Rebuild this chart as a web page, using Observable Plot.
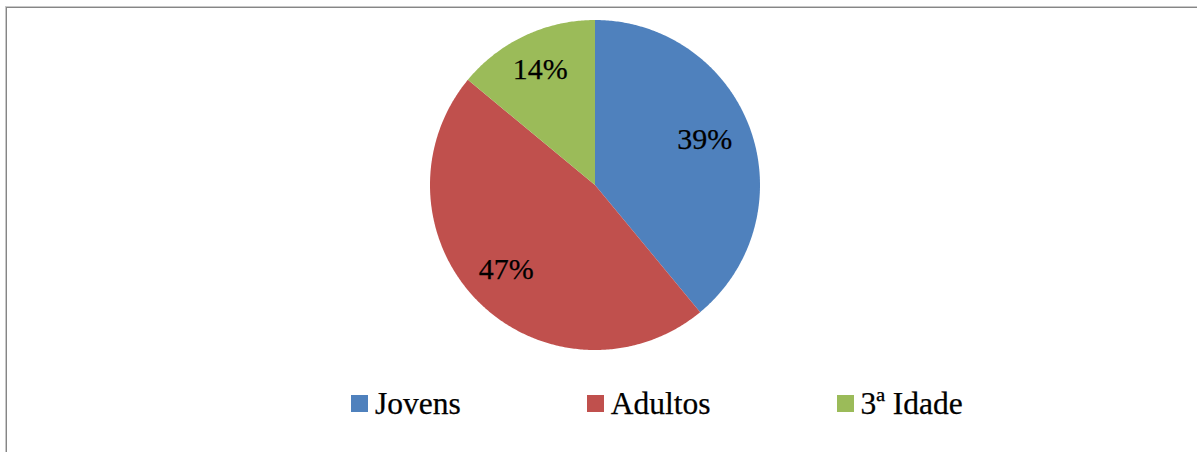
<!DOCTYPE html>
<html>
<head>
<meta charset="utf-8">
<script src="https://cdn.jsdelivr.net/npm/d3@7"></script>
<script src="https://cdn.jsdelivr.net/npm/@observablehq/plot@0.6"></script>
<style>
  html, body { margin: 0; padding: 0; background: #fff; overflow: hidden; width: 1197px; height: 452px; }
  #frame { position: absolute; left: 6px; top: 7px; width: 1300px; height: 600px; border-left: 1px solid #868686; border-top: 1px solid #868686; box-shadow: -1px -1px 0 #c8c8c8; }
  #chart { position: absolute; left: 0; top: 0; }
  #legend { position: absolute; left: 351px; top: 395px; display: flex; align-items: center; gap: 126px; font-family: "Liberation Serif"; font-size: 31.5px; line-height: 17px; color: #000; -webkit-text-stroke: 0.25px #000; }
  .item { display: flex; align-items: center; white-space: nowrap; }
  .sw { width: 17px; height: 17px; margin-right: 7px; flex: none; }
</style>
</head>
<body>
<div id="frame"></div>
<div id="chart"></div>
<div id="legend"></div>
<script>
const categories = ["Jovens", "Adultos", "3ª Idade"];
const values = [39, 47, 14];
const labels = ["39%", "47%", "14%"];
const colors = ["#4F81BD", "#C0504D", "#9BBB59"];

const pie = d3.pie().sort(null).value(d => d.value)(
  categories.map((c, i) => ({cat: c, value: values[i], label: labels[i]}))
);

// sector outlines: arc points paired with the centre
const rows = [];
for (const s of pie) {
  const n = Math.max(2, Math.ceil((s.endAngle - s.startAngle) / 0.01));
  for (let k = 0; k <= n; k++) {
    const a = s.startAngle + (s.endAngle - s.startAngle) * k / n;
    rows.push({cat: s.data.cat, x1: Math.sin(a), y1: Math.cos(a), x2: 0, y2: 0});
  }
}
const labelRows = pie.map(s => {
  const a = (s.startAngle + s.endAngle) / 2;
  return {label: s.data.label, x: 0.73 * Math.sin(a), y: 0.75 * Math.cos(a)};
});

const chart = Plot.plot({
  width: 1197,
  height: 370,
  marginLeft: 430,
  marginRight: 437,
  marginTop: 20,
  marginBottom: 20,
  x: {domain: [-1, 1], axis: null},
  y: {domain: [-1, 1], axis: null},
  color: {domain: categories, range: colors},
  style: {background: "transparent", overflow: "visible"},
  marks: [
    Plot.area(rows, {x1: "x1", y1: "y1", x2: "x2", y2: "y2", z: "cat", fill: "cat", curve: "linear"}),
    Plot.text(labelRows, {x: "x", y: "y", text: "label", dx: -4, dy: -4, fontSize: 30, fontFamily: "Liberation Serif", fill: "#000", stroke: "#000", strokeWidth: 0.25})
  ]
});
document.getElementById("chart").appendChild(chart);

const legend = document.getElementById("legend");
categories.forEach((c, i) => {
  const item = document.createElement("div");
  item.className = "item";
  const sw = document.createElement("span");
  sw.className = "sw";
  sw.style.background = colors[i];
  const t = document.createElement("span");
  t.textContent = c;
  item.appendChild(sw);
  item.appendChild(t);
  legend.appendChild(item);
});
</script>
</body>
</html>
